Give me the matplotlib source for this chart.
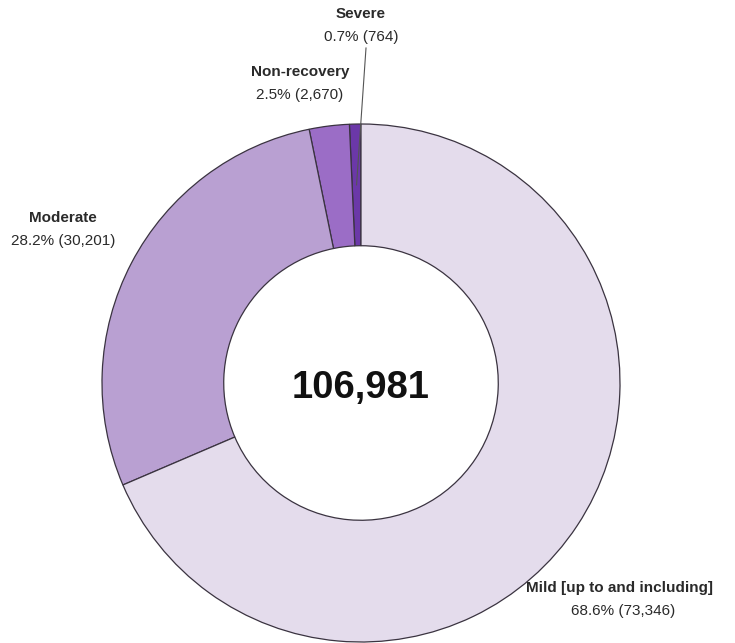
import matplotlib.pyplot as plt
import numpy as np

plt.rcParams['font.family'] = ['Liberation Sans', 'DejaVu Sans']

# severity groups, counter-clockwise from 12 o'clock
categories = ["Severe", "Non-recovery", "Moderate", "Mild [up to and including]"]
counts = [764, 2670, 30201, 73346]
percents = [0.7, 2.5, 28.2, 68.6]
colors = ["#6b38a8", "#9b6dc6", "#b9a0d2", "#e4dcec"]

total = sum(counts)

fig = plt.figure(figsize=(7.35, 6.43), dpi=100)
ax = fig.add_axes([0, 0, 1, 1])

cx, cy, r_out = 361, 260, 259
ring = 0.47
wedges, _ = ax.pie(counts, colors=colors, startangle=90, counterclock=True,
                   center=(cx, cy), radius=r_out, frame=True,
                   wedgeprops=dict(width=r_out * ring, edgecolor='#3a3340', linewidth=0.9))
ax.set_xlim(0, 735)
ax.set_ylim(0, 643)
ax.set_aspect('equal')
ax.axis('off')

ax.text(cx, cy - 5, f"{total:,}", ha='center', va='center', fontsize=27.5, fontweight='bold', color='#111111')

# label anchors (centre of first line) in figure pixels, y measured from top
label_pos = [(361, 14), (300, 72), (63, 218), (620, 588)]
for name, n, p, (lx, ly) in zip(categories, counts, percents, label_pos):
    ax.text(lx, 643 - ly, name, ha='center', va='center', fontsize=11,
            fontweight='bold', color='#2a2a2a')
    ax.text(lx + (3 if name.startswith("Mild") else 0), 643 - ly - 23, f"{p}% ({n:,})",
            ha='center', va='center', fontsize=11, color='#2a2a2a')

# leader line for the thin Severe slice
w = wedges[0]
mid = np.deg2rad((w.theta1 + w.theta2) / 2)
rm = r_out * (1 - ring / 2)
ax.plot([cx + rm * np.cos(mid), 366], [cy + rm * np.sin(mid), 643 - 48],
        color='#555555', linewidth=0.8)

plt.savefig('out.png', dpi=100)
